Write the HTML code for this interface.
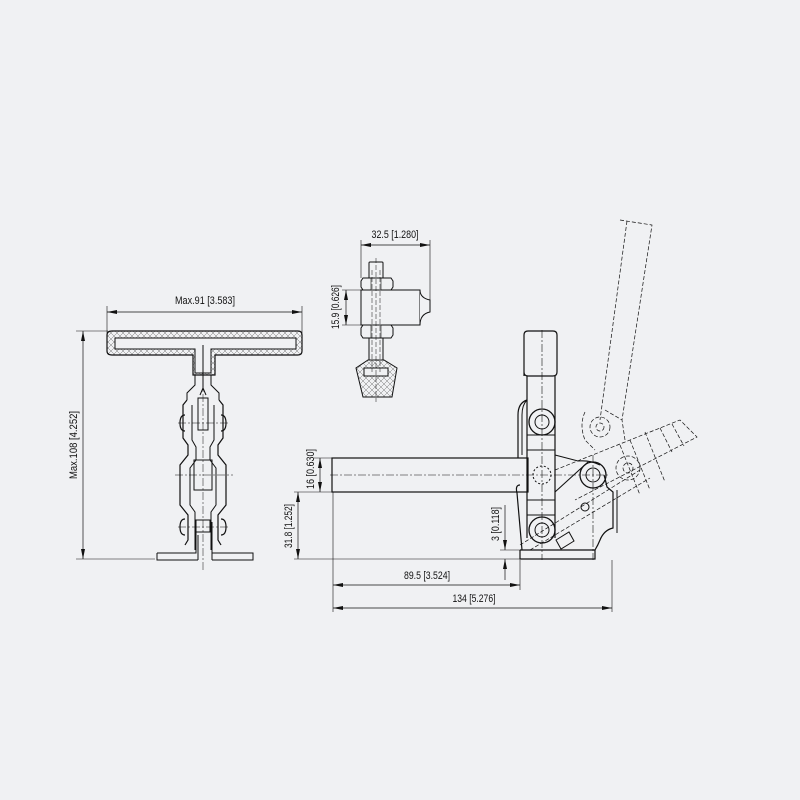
<!DOCTYPE html>
<html><head><meta charset="utf-8"><style>
html,body{margin:0;padding:0;background:#f0f1f3;}
svg{display:block}
text{font-family:"Liberation Sans",sans-serif;font-size:11px;fill:#111;}
</style></head><body>
<svg width="800" height="800" viewBox="0 0 800 800" xmlns="http://www.w3.org/2000/svg">
<defs>
<pattern id="xh" width="6" height="6" patternUnits="userSpaceOnUse"><path d="M0 0L6 6M6 0L0 6" stroke="#555" stroke-width="0.4"/></pattern>
<marker id="ar" viewBox="0 0 10 4" refX="10" refY="2" markerWidth="10" markerHeight="4" orient="auto-start-reverse" markerUnits="userSpaceOnUse"><path d="M0 0L10 2L0 4z" fill="#111"/></marker>
</defs>
<rect width="800" height="800" fill="#f0f1f3"/>
<g fill="none" stroke="#111" stroke-width="1">
<!-- LEFT VIEW -->
<line x1="107" y1="312" x2="302" y2="312" marker-start="url(#ar)" marker-end="url(#ar)" stroke-width="0.7"/>
<line x1="107" y1="306" x2="107" y2="333" stroke-width="0.6"/>
<line x1="302" y1="306" x2="302" y2="333" stroke-width="0.6"/>
<line x1="83" y1="331" x2="83" y2="559" marker-start="url(#ar)" marker-end="url(#ar)" stroke-width="0.7"/>
<line x1="76" y1="331" x2="108" y2="331" stroke-width="0.6"/>
<line x1="76" y1="559" x2="155" y2="559" stroke-width="0.6"/>
<path d="M112 331H298Q302 331 302 335V351Q302 355 298 355H215V375H193V355H112Q107 355 107 351V335Q107 331 112 331Z" fill="url(#xh)" stroke-width="1.2"/>
<path d="M115 338H296V349H211V373H195V349H115Z" fill="#f0f1f3"/>
<line x1="203" y1="345" x2="203" y2="390"/>
<path d="M195 375V385L187 393V400 M211 375V385L219 393V400"/>
<path d="M187 400L183 405V438L188 445V455L180 465V505L188 515V540L185 545 M219 400L223 405V438L218 445V455L226 465V505L218 515V540L221 545" stroke-width="1.2"/>
<path d="M192 405V440L196 447V460L190 468V505L195 512V550 M214 405V440L210 447V460L216 468V505L211 512V550"/>
<path d="M198 398H208V430H198Z M200 395L203 388L206 395"/>
<rect x="194" y="460" width="18" height="30"/>
<rect x="196" y="520" width="14" height="12"/>
<path d="M185 415Q180 415 180 423Q180 431 185 431 M221 415Q226 415 226 423Q226 431 221 431 M185 519Q180 519 180 527Q180 535 185 535 M221 519Q226 519 226 527Q226 535 221 535" stroke-width="1.2"/>
<path d="M157 553H196V522 M157 553V560H198 M212 522V553H253V560H212"/>
<path d="M198 560V535 M212 560V535"/>
<g stroke-dasharray="8 2 2 2" stroke-width="0.5"><line x1="203" y1="380" x2="203" y2="570"/><line x1="178" y1="423" x2="230" y2="423"/><line x1="175" y1="475" x2="233" y2="475"/><line x1="178" y1="527" x2="230" y2="527"/></g>

<!-- MIDDLE DETAIL -->
<line x1="361" y1="245" x2="430" y2="245" marker-start="url(#ar)" marker-end="url(#ar)" stroke-width="0.7"/>
<line x1="361" y1="240" x2="361" y2="278" stroke-width="0.6"/>
<line x1="430" y1="240" x2="430" y2="300" stroke-width="0.6"/>
<line x1="346" y1="290" x2="346" y2="325" marker-start="url(#ar)" marker-end="url(#ar)" stroke-width="0.7"/>
<line x1="342" y1="290" x2="361" y2="290" stroke-width="0.6"/>
<line x1="342" y1="325" x2="361" y2="325" stroke-width="0.6"/>
<path d="M369 278V263Q369 262 370 262H382Q383 262 383 263V278"/>
<path d="M363 278H391L393 281V287L391 290H363L361 287V281Z"/>
<path d="M371 278V290 M381 278V290 M371 325V338 M381 325V338" stroke-width="0.6"/>
<path d="M361 290H420V325H361Z"/>
<path d="M420 290Q420 298 430 300V312Q420 314 420 325" fill="#f0f1f3"/>
<path d="M363 325H391L393 328V335L391 338H363L361 335V328Z"/>
<path d="M369 338V360 M383 338V360"/>
<path d="M368 360H384L397 368L392 397H363L356 368Z" fill="url(#xh)"/>
<rect x="364" y="368" width="24" height="8" fill="#f0f1f3"/>
<g stroke-dasharray="5 2" stroke-width="0.5"><line x1="372" y1="270" x2="372" y2="372"/><line x1="380" y1="270" x2="380" y2="372"/><line x1="376" y1="258" x2="376" y2="402"/></g>

<!-- RIGHT VIEW dims -->
<line x1="320" y1="458" x2="320" y2="492" marker-start="url(#ar)" marker-end="url(#ar)" stroke-width="0.7"/>
<line x1="314" y1="458" x2="332" y2="458" stroke-width="0.6"/>
<line x1="298" y1="492" x2="298" y2="559" marker-start="url(#ar)" marker-end="url(#ar)" stroke-width="0.7"/>
<line x1="294" y1="492" x2="332" y2="492" stroke-width="0.6"/>
<line x1="294" y1="559" x2="520" y2="559" stroke-width="0.6"/>
<line x1="505" y1="505" x2="505" y2="550" marker-end="url(#ar)" stroke-width="0.7"/>
<line x1="505" y1="559" x2="505" y2="580" marker-start="url(#ar)" stroke-width="0.7"/>
<line x1="500" y1="550" x2="520" y2="550" stroke-width="0.6"/>
<line x1="333" y1="492" x2="333" y2="612" stroke-width="0.6"/>
<line x1="333" y1="585" x2="520" y2="585" marker-start="url(#ar)" marker-end="url(#ar)" stroke-width="0.7"/>
<line x1="520" y1="560" x2="520" y2="590" stroke-width="0.6"/>
<line x1="333" y1="608" x2="612" y2="608" marker-start="url(#ar)" marker-end="url(#ar)" stroke-width="0.7"/>
<line x1="612" y1="560" x2="612" y2="612" stroke-width="0.6"/>

<!-- RIGHT VIEW body -->
<rect x="332" y="458" width="196" height="34" stroke-width="1.2"/>
<path d="M527 376V538 M555 376V538" stroke-width="1.2"/>
<path d="M524 376V335Q524 331 528 331H553Q557 331 557 335V372Q557 376 553 376H528Q524 376 524 372" stroke-width="1.2"/>
<path d="M527 400Q518 403 518 415V458" stroke-width="1.2"/>
<path d="M527 400Q522 405 522 415V455"/>
<path d="M527 450H555 M527 500H555 M527 435H555 M527 515H555" stroke-width="1"/>
<path d="M555 455L578 461Q590 460 600 465 M555 492L588 462" stroke-width="1.1"/>
<path d="M520 485Q515 485 517 493L522 550 M520 550H595Q598 545 600 540Q604 530 613 528V492L607 487Q605 478 604 475" stroke-width="1.2"/>
<path d="M520 550V559H595V550" stroke-width="1.2"/>
<path d="M617 490V533" />
<circle cx="593" cy="475" r="13" stroke-width="1.3"/>
<circle cx="593" cy="475" r="7"/>
<circle cx="542" cy="422" r="13" stroke-width="1.3"/>
<circle cx="542" cy="422" r="7"/>
<circle cx="542" cy="530" r="13" stroke-width="1.3"/>
<circle cx="542" cy="530" r="7"/>
<circle cx="542" cy="475" r="9" stroke-dasharray="2 2"/>
<circle cx="585" cy="507" r="4"/>
<path d="M556 540L569 532L574 541L561 549Z"/>
<g stroke-dasharray="8 2 2 2" stroke-width="0.6">
<line x1="330" y1="475" x2="610" y2="475"/>
<line x1="542" y1="330" x2="542" y2="560"/>
<line x1="593" y1="455" x2="593" y2="560"/>
</g>
<!-- dashed open handle -->
<g stroke-dasharray="4 2" stroke-width="0.7">
<path d="M620 220L652 225L622 420 M627 221L600 420 M585 412Q579 425 585 440L595 450 M605 410L622 420L625 440"/>
<circle cx="600" cy="427" r="10"/>
<circle cx="600" cy="427" r="4"/>
<path d="M555 470L680 420L697 437L575 500 M620 445L640 495 M630 440L650 490 M645 432L665 482 M660 428L672 452 M672 424L684 446"/>
<circle cx="628" cy="468" r="12"/>
<circle cx="628" cy="468" r="5"/>
<path d="M520 545L640 470 M530 550L650 478"/>
</g>
</g>
<g>
<text x="205" y="304" text-anchor="middle" textLength="60" lengthAdjust="spacingAndGlyphs">Max.91 [3.583]</text>
<text transform="translate(77 445) rotate(-90)" text-anchor="middle" textLength="68" lengthAdjust="spacingAndGlyphs">Max.108 [4.252]</text>
<text x="395" y="238" text-anchor="middle" textLength="47" lengthAdjust="spacingAndGlyphs">32.5 [1.280]</text>
<text transform="translate(339 307) rotate(-90)" text-anchor="middle" textLength="44" lengthAdjust="spacingAndGlyphs">15.9 [0.626]</text>
<text transform="translate(314 469) rotate(-90)" text-anchor="middle" textLength="40" lengthAdjust="spacingAndGlyphs">16 [0.630]</text>
<text transform="translate(292 526) rotate(-90)" text-anchor="middle" textLength="44" lengthAdjust="spacingAndGlyphs">31.8 [1.252]</text>
<text transform="translate(499 524) rotate(-90)" text-anchor="middle" textLength="34" lengthAdjust="spacingAndGlyphs">3 [0.118]</text>
<text x="427" y="579" text-anchor="middle" textLength="46" lengthAdjust="spacingAndGlyphs">89.5 [3.524]</text>
<text x="474" y="602" text-anchor="middle" textLength="43" lengthAdjust="spacingAndGlyphs">134 [5.276]</text>
</g>
</svg>
</body></html>
